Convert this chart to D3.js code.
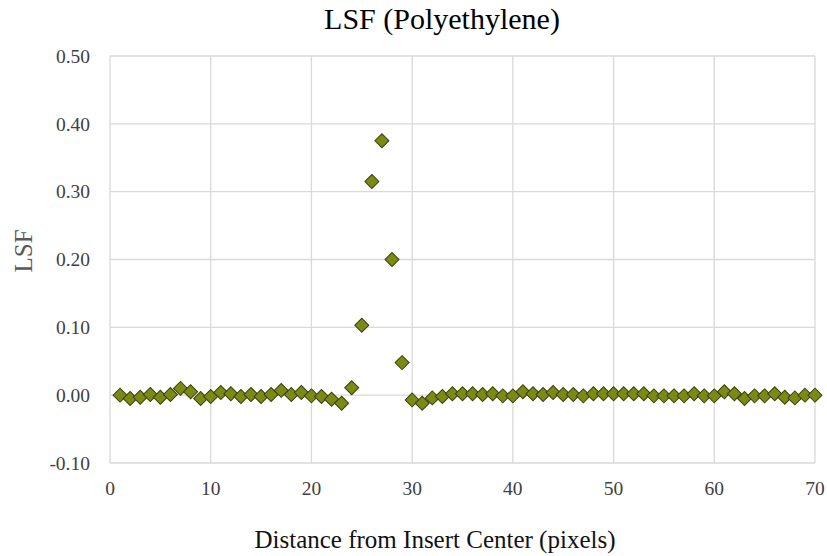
<!DOCTYPE html>
<html><head><meta charset="utf-8">
<script src="https://cdn.jsdelivr.net/npm/d3@7"></script>
<style>body{margin:0;background:#fff}</style>
</head><body><svg id="c" width="827" height="556"></svg>
<script>
const distance = d3.range(1, 71);
const lsf = [
  0.000,-0.005,-0.003,0.001,-0.003,0.001,0.010,0.005,-0.005,-0.002,
  0.004,0.002,-0.002,0.001,-0.002,0.001,0.007,0.001,0.004,-0.001,
  -0.002,-0.006,-0.012,0.011,0.103,0.315,0.375,0.200,0.048,-0.007,
  -0.012,-0.004,-0.002,0.002,0.002,0.002,0.001,0.002,-0.001,-0.001,
  0.005,0.002,0.001,0.004,0.001,0.001,-0.001,0.002,0.002,0.002,
  0.002,0.002,0.002,-0.001,-0.001,-0.001,-0.001,0.002,-0.001,-0.001,
  0.005,0.002,-0.005,-0.001,-0.001,0.002,-0.003,-0.004,0.000,0.000
];
const xTicks = [0,10,20,30,40,50,60,70];
const yTicks = [-0.10,0.00,0.10,0.20,0.30,0.40,0.50];

const svg = d3.select("#c");
const L=110,R=815,T=56,B=463;
const x = d3.scaleLinear().domain([0,70]).range([L,R]);
const y = d3.scaleLinear().domain([-0.10,0.50]).range([B,T]);
const font = "'Liberation Serif','Times New Roman',serif";
const fmt = d => d3.format(".2f")(d).replace("\u2212","-");

svg.append("g").selectAll("line").data(xTicks).join("line")
  .attr("x1",d=>x(d)).attr("x2",d=>x(d)).attr("y1",T).attr("y2",B)
  .attr("stroke","#d9d9d9").attr("stroke-width",1.3);
svg.append("g").selectAll("line").data(yTicks).join("line")
  .attr("x1",L).attr("x2",R).attr("y1",d=>y(d)).attr("y2",d=>y(d))
  .attr("stroke","#d9d9d9").attr("stroke-width",1.3);

svg.append("g").selectAll("text").data(yTicks).join("text")
  .attr("x",90).attr("y",d=>y(d)).attr("dy","0.35em").attr("text-anchor","end")
  .attr("font-family",font).attr("font-size",19.5).attr("fill","#404040")
  .text(fmt);
svg.append("g").selectAll("text").data(xTicks).join("text")
  .attr("x",d=>x(d)).attr("y",B+32).attr("text-anchor","middle")
  .attr("font-family",font).attr("font-size",19.5).attr("fill","#404040")
  .text(d=>d);

const sym = d3.symbol().type(d3.symbolSquare).size(98);
svg.append("g").selectAll("path").data(distance).join("path")
  .attr("transform",(d,i)=>`translate(${x(d)},${y(lsf[i])}) rotate(45)`)
  .attr("d",sym).attr("fill","#7b8a12").attr("stroke","#3a3f10").attr("stroke-width",1);

svg.append("text").attr("x",442).attr("y",29).attr("text-anchor","middle")
  .attr("font-family",font).attr("font-size",30).attr("fill","#000").text("LSF (Polyethylene)");
svg.append("text").attr("x",435).attr("y",548).attr("text-anchor","middle")
  .attr("font-family",font).attr("font-size",25).attr("fill","#111").text("Distance from Insert Center (pixels)");
svg.append("text").attr("transform",`translate(32,251) rotate(-90)`).attr("text-anchor","middle")
  .attr("font-family",font).attr("font-size",25).attr("fill","#595959").text("LSF");
</script></body></html>
